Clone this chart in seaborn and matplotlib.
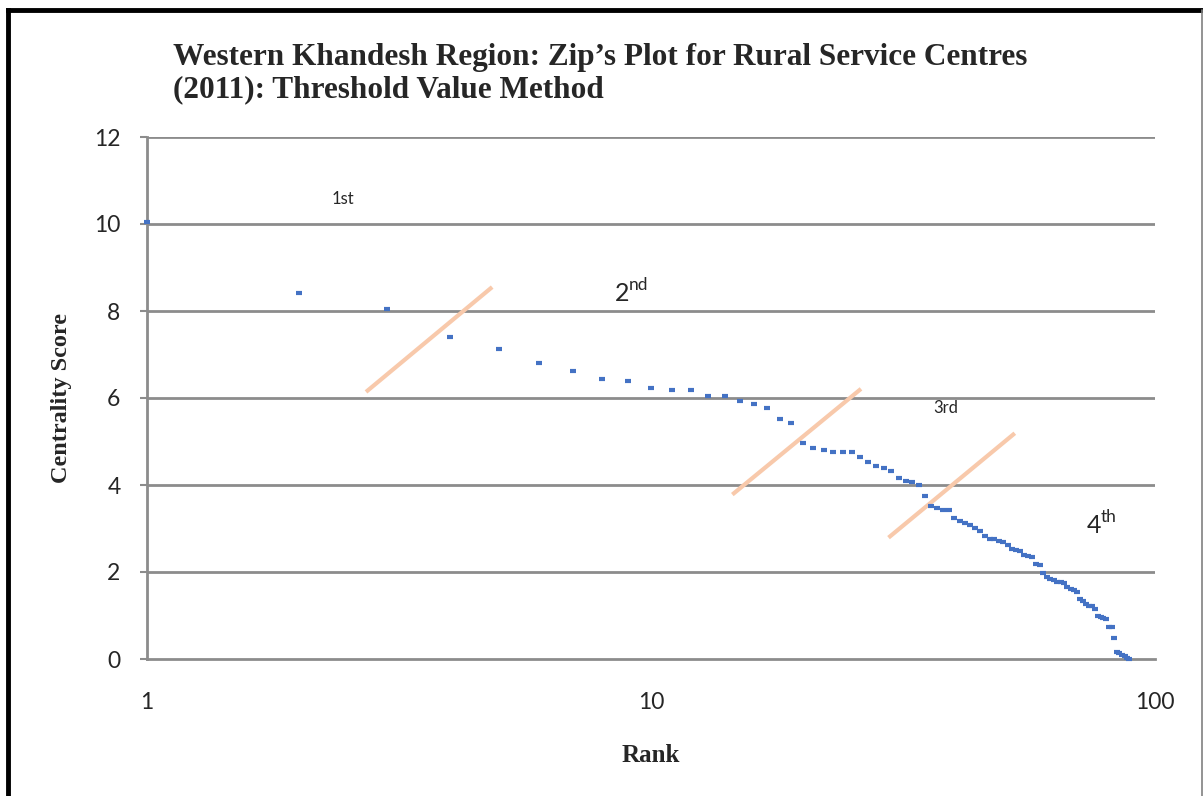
import numpy as np
import pandas as pd
import matplotlib
matplotlib.use("Agg")
import matplotlib.pyplot as plt
import seaborn as sns
from matplotlib.lines import Line2D

# Centrality scores of rural service centres, ordered by rank
ranks = list(range(1, 90))
scores = [
    10.05, 8.41, 8.05, 7.40, 7.13, 6.80, 6.62, 6.44, 6.38, 6.22,
    6.18, 6.18, 6.05, 6.05, 5.92, 5.86, 5.77, 5.52, 5.43, 4.97,
    4.85, 4.80, 4.77, 4.75, 4.75, 4.64, 4.53, 4.44, 4.39, 4.32,
    4.15, 4.09, 4.08, 3.99, 3.74, 3.51, 3.48, 3.43, 3.42, 3.24,
    3.17, 3.12, 3.07, 3.02, 2.94, 2.82, 2.77, 2.75, 2.72, 2.68,
    2.62, 2.54, 2.50, 2.48, 2.38, 2.37, 2.35, 2.18, 2.15, 1.97,
    1.88, 1.85, 1.82, 1.77, 1.76, 1.74, 1.65, 1.61, 1.58, 1.55,
    1.39, 1.33, 1.27, 1.22, 1.21, 1.14, 0.99, 0.97, 0.94, 0.93,
    0.74, 0.74, 0.48, 0.16, 0.13, 0.10, 0.07, 0.03, 0.01,
]

# Threshold break lines between orders (rank, score end points)
break_x = [(2.72, 4.84), (14.5, 26.1), (29.6, 52.7)]
break_y = [(6.14, 8.55), (3.78, 6.21), (2.79, 5.19)]

# Order labels: (base text, superscript, rank, score, small style)
order_labels = [
    ("1st", "", 2.45, 10.58, True),
    ("2", "nd", 8.75, 8.40, False),
    ("3rd", "", 38.5, 5.77, True),
    ("4", "th", 75.5, 3.08, False),
]

x_ticks = [1, 10, 100]
x_tick_labels = ["1", "10", "100"]
y_ticks = [0, 2, 4, 6, 8, 10, 12]

df = pd.DataFrame({"Rank": ranks, "Centrality Score": scores})

sns.set_style("white")
plt.rcParams["font.family"] = ["Lato", "DejaVu Sans"]

fig = plt.figure(figsize=(12.03, 7.96), dpi=100)
ax = fig.add_axes([147 / 1203, 1 - 659 / 796, (1155 - 147) / 1203, (659 - 137) / 796])

grid_col = "#8c8c8c"
for y in y_ticks[1:]:
    ax.axhline(y, color=grid_col, lw=2.0, zorder=1)

for (x0, x1), (y0, y1) in zip(break_x, break_y):
    ax.plot([x0, x1], [y0, y1], color="#F8C9AB", lw=3.0, solid_capstyle="butt", zorder=2)

sns.scatterplot(data=df, x="Rank", y="Centrality Score", marker="_", s=20,
                linewidth=3.0, color="#4472C4", ax=ax, zorder=3, clip_on=False)

ax.set_xscale("log")
ax.set_xlim(1, 100)
ax.set_ylim(0, 12)
ax.set_xticks(x_ticks)
ax.set_xticklabels(x_tick_labels)
ax.xaxis.set_minor_locator(matplotlib.ticker.NullLocator())
ax.set_yticks(y_ticks)
ax.set_yticklabels([str(v) for v in y_ticks])
ax.tick_params(axis="x", length=0, pad=24, labelsize=16.5)
ax.tick_params(axis="y", length=5, width=1.5, color=grid_col, direction="out", pad=14, labelsize=16.5, left=True)

for side in ["top", "right"]:
    ax.spines[side].set_visible(False)
for side in ["left", "bottom"]:
    ax.spines[side].set_color(grid_col)
    ax.spines[side].set_linewidth(2.0)

ax.set_xlabel("")
ax.set_ylabel("")

serif = ["Liberation Serif", "DejaVu Serif"]
fig.text(62 / 1203, 1 - 398 / 796, "Centrality Score", rotation=90, ha="center", va="center",
         fontsize=17.5, fontweight="bold", family=serif)
fig.text(651 / 1203, 1 - 755 / 796, "Rank", ha="center", va="center",
         fontsize=18, fontweight="bold", family=serif)
fig.text(173 / 1203, 1 - 58 / 796, "Western Khandesh Region: Zip\u2019s Plot for Rural Service Centres",
         ha="left", va="center", fontsize=22.5, fontweight="bold", family=serif)
fig.text(173 / 1203, 1 - 90 / 796, "(2011): Threshold Value Method",
         ha="left", va="center", fontsize=22.5, fontweight="bold", family=serif)

for base, sup, rx, ry, small in order_labels:
    if small:
        ax.text(rx, ry, base, ha="center", va="center", fontsize=12)
    else:
        ax.annotate(base, (rx, ry), ha="center", va="center", fontsize=18)
        ax.annotate(sup, (rx, ry), xytext=(5, 6), textcoords="offset points",
                    ha="left", va="center", fontsize=12.5)

# Figure frame
fig.add_artist(Line2D([7.5 / 1203, 7.5 / 1203], [0, 1 - 10 / 796], transform=fig.transFigure,
                      color="black", lw=3.5, solid_capstyle="projecting"))
fig.add_artist(Line2D([7.5 / 1203, 1], [1 - 10 / 796, 1 - 10 / 796], transform=fig.transFigure,
                      color="black", lw=3.5, solid_capstyle="projecting"))
fig.add_artist(Line2D([1201.5 / 1203, 1201.5 / 1203], [0, 1 - 10 / 796], transform=fig.transFigure,
                      color="#808080", lw=1.2))

fig.savefig("out.png", dpi=100)
